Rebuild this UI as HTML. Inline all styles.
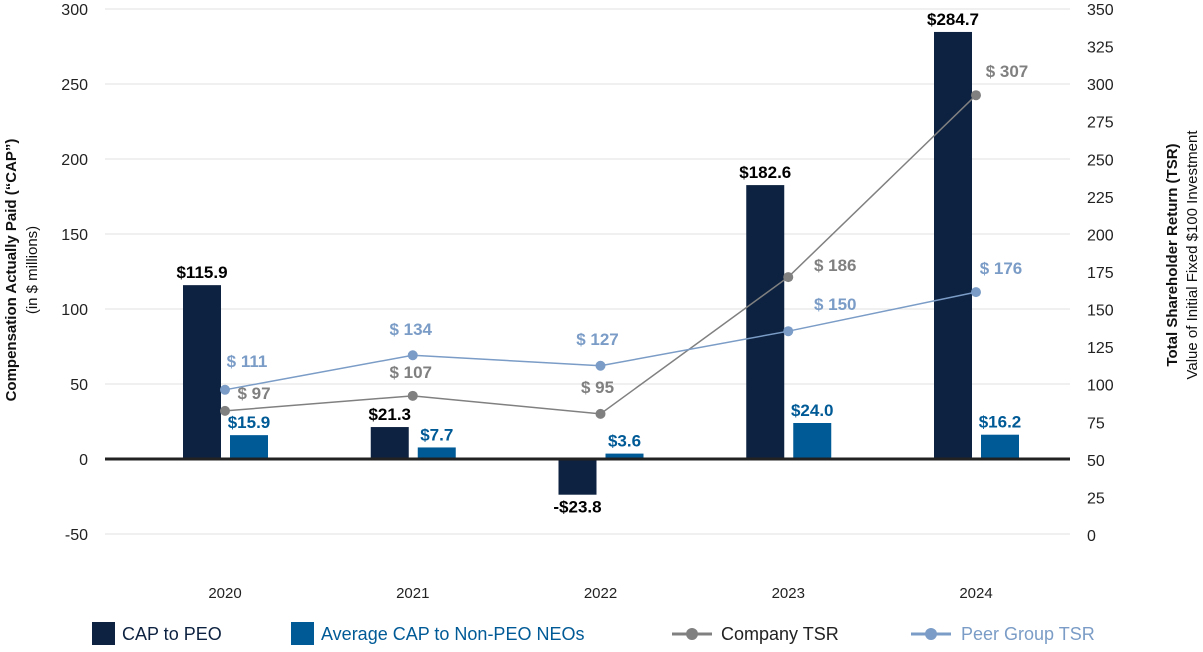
<!DOCTYPE html>
<html><head><meta charset="utf-8"><style>
body{margin:0;background:#fff;font-family:"Liberation Sans",sans-serif}
svg text{font-family:"Liberation Sans",sans-serif}
</style></head><body>
<svg id="c" width="1203" height="647" viewBox="0 0 1203 647"></svg>
<script>
const years=["2020","2021","2022","2023","2024"];
const capPEO=[115.9,21.3,-23.8,182.6,284.7];
const capNEO=[15.9,7.7,3.6,24.0,16.2];
const companyTSR=[97,107,95,186,307];
const peerTSR=[111,134,127,150,176];
const leftTicks=[-50,0,50,100,150,200,250,300];
const rightTicks=[0,25,50,75,100,125,150,175,200,225,250,275,300,325,350];

const NS="http://www.w3.org/2000/svg";
const svg=document.getElementById('c');
function el(t,a,txt){const e=document.createElementNS(NS,t);for(const k in a)e.setAttribute(k,a[k]);if(txt!==undefined)e.textContent=txt;svg.appendChild(e);return e;}
const yL=v=>459-v*1.5;
const yR=v=>535-v*1.503;
const yT=v=>yR(v-14.4);
const xC=i=>225+i*187.75;
const X0=105,X1=1070;

leftTicks.forEach(t=>{
 if(t!==0){const g=el('line',{x1:X0,x2:X1,y1:yL(t),y2:yL(t),stroke:'#e2e2e2','stroke-width':1});
 
 }
 const l=el('text',{x:88,y:yL(t)+6,'text-anchor':'end','font-size':16,fill:'#222'},t);
 
 
});
rightTicks.forEach(t=>{
 const l=el('text',{x:1087,y:yR(t)+6,'font-size':16,fill:'#222'},t);
 
 
});
years.forEach((y,i)=>{
 const cx=xC(i);
 const b=el('rect',{x:cx-42,width:38,y:Math.min(yL(capPEO[i]),yL(0)),height:Math.abs(capPEO[i]*1.5),fill:'#0d2240'});
 
 
 const n=el('rect',{x:cx+5,width:38,y:Math.min(yL(capNEO[i]),yL(0)),height:Math.abs(capNEO[i]*1.5),fill:'#005a96'});
 
 
 const pl=el('text',{x:cx-23,y:capPEO[i]>=0?yL(capPEO[i])-7:yL(capPEO[i])+18,'text-anchor':'middle','font-size':17,'font-weight':'bold',fill:'#000'},'$'+capPEO[i].toFixed(1));
 if(capPEO[i]<0)pl.textContent='-$'+Math.abs(capPEO[i]).toFixed(1);
 
 
 const nl=el('text',{x:cx+24,y:yL(capNEO[i])-7,'text-anchor':'middle','font-size':17,'font-weight':'bold',fill:'#005a96'},'$'+capNEO[i].toFixed(1));
 
 
 const yl=el('text',{x:cx,y:598,'text-anchor':'middle','font-size':15,fill:'#222'},y);
 
 
});
const z=el('line',{x1:X0,x2:X1,y1:yL(0),y2:yL(0),stroke:'#222','stroke-width':3});



function series(vals,color,name,lx,ly){
 const pts=vals.map((v,i)=>xC(i)+','+yT(v)).join(' ');
 const p=el('polyline',{points:pts,fill:'none',stroke:color,'stroke-width':1.5});
 
 
 vals.forEach((v,i)=>{
  const c=el('circle',{cx:xC(i),cy:yT(v),r:5,fill:color});
  
  
  const t=el('text',{x:xC(i)+lx[i],y:yT(v)+ly[i],'text-anchor':'middle','font-size':17,'font-weight':'bold',fill:color},'$ '+v);
  
  
 });
}
series(companyTSR,'#808080','company-tsr',[29,-2,-3,47,31],[-12,-18,-21,-6,-18]);
series(peerTSR,'#7a9cc6','peer-tsr',[22,-2,-3,47,25],[-23,-20,-21,-21,-18]);

let t=el('text',{transform:'translate(16,270) rotate(-90)','text-anchor':'middle','font-size':15,'font-weight':'bold',fill:'#111'},'Compensation Actually Paid (“CAP”)');


t=el('text',{transform:'translate(37,270) rotate(-90)','text-anchor':'middle','font-size':15,fill:'#111'},'(in $ millions)');


t=el('text',{transform:'translate(1177,255) rotate(-90)','text-anchor':'middle','font-size':15,'font-weight':'bold',fill:'#111'},'Total Shareholder Return (TSR)');


t=el('text',{transform:'translate(1197,255) rotate(-90)','text-anchor':'middle','font-size':15,fill:'#111'},'Value of Initial Fixed $100 Investment');



let r=el('rect',{x:92,y:622,width:23,height:23,fill:'#0d2240'});


t=el('text',{x:122,y:640,'font-size':18,fill:'#0d2240'},'CAP to PEO');


r=el('rect',{x:291,y:622,width:23,height:23,fill:'#005a96'});


t=el('text',{x:321,y:640,'font-size':18,fill:'#005a96'},'Average CAP to Non-PEO NEOs');


r=el('line',{x1:672,x2:712,y1:634,y2:634,stroke:'#808080','stroke-width':3});


r=el('circle',{cx:692,cy:634,r:6,fill:'#808080'});


t=el('text',{x:721,y:640,'font-size':18,fill:'#222'},'Company TSR');


r=el('line',{x1:911,x2:951,y1:634,y2:634,stroke:'#7a9cc6','stroke-width':3});


r=el('circle',{cx:931,cy:634,r:6,fill:'#7a9cc6'});


t=el('text',{x:961,y:640,'font-size':18,fill:'#7a9cc6'},'Peer Group TSR');


</script>
</body></html>
